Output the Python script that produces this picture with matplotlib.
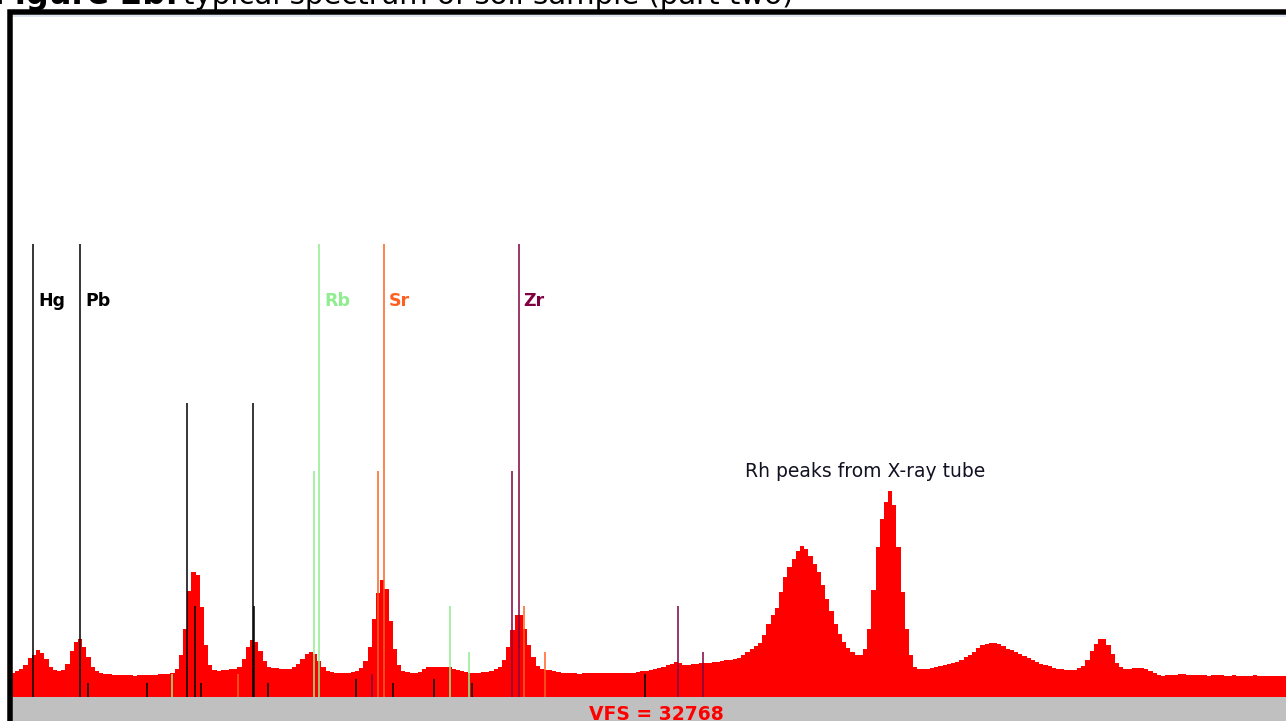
import numpy as np
import matplotlib
matplotlib.use("Agg")
from matplotlib import pyplot as plt
from matplotlib.patches import Rectangle

# spectrum: channel energies (keV) start/step, counts per channel
E0 = 9.75
STEP = 0.05
counts = [
    1200, 1300, 1400, 1600, 1950, 2100, 2350, 2200, 1900, 1500,
    1350, 1300, 1350, 1650, 2300, 2750, 2900, 2500, 2000, 1500,
    1300, 1200, 1150, 1150, 1100, 1100, 1100, 1100, 1100, 1050,
    1100, 1100, 1100, 1100, 1100, 1150, 1150, 1150, 1200, 1400,
    2100, 3400, 5300, 6250, 6100, 4500, 2600, 1600, 1350, 1300,
    1350, 1350, 1400, 1400, 1500, 1900, 2500, 2850, 2750, 2300,
    1800, 1500, 1450, 1450, 1400, 1400, 1400, 1500, 1650, 1900,
    2150, 2250, 2150, 1800, 1500, 1300, 1250, 1200, 1200, 1200,
    1200, 1250, 1300, 1450, 1800, 2500, 3900, 5200, 5850, 5400,
    3800, 2400, 1600, 1300, 1250, 1200, 1200, 1250, 1400, 1500,
    1500, 1500, 1500, 1500, 1500, 1400, 1350, 1300, 1250, 1200,
    1200, 1200, 1250, 1250, 1300, 1400, 1500, 1850, 2500, 3350,
    4100, 4100, 3400, 2600, 2000, 1550, 1400, 1350, 1350, 1300,
    1250, 1200, 1200, 1200, 1200, 1150, 1200, 1200, 1200, 1200,
    1200, 1200, 1200, 1200, 1200, 1200, 1200, 1200, 1200, 1250,
    1300, 1300, 1350, 1400, 1450, 1500, 1600, 1650, 1750, 1700,
    1600, 1600, 1650, 1650, 1700, 1700, 1700, 1750, 1750, 1800,
    1850, 1850, 1900, 1950, 2100, 2250, 2400, 2550, 2700, 3100,
    3650, 4100, 4450, 5250, 6000, 6500, 6900, 7300, 7550, 7400,
    7050, 6650, 6250, 5600, 4900, 4300, 3650, 3150, 2750, 2450,
    2250, 2100, 2100, 2400, 3400, 5350, 7500, 8900, 9750, 10300,
    9600, 7500, 5250, 3400, 2100, 1500, 1400, 1400, 1400, 1450,
    1500, 1550, 1600, 1650, 1700, 1750, 1850, 2000, 2100, 2250,
    2450, 2600, 2650, 2700, 2700, 2650, 2550, 2400, 2350, 2250,
    2150, 2050, 1950, 1850, 1750, 1650, 1600, 1550, 1450, 1400,
    1400, 1350, 1350, 1350, 1450, 1550, 1850, 2300, 2650, 2900,
    2900, 2600, 2150, 1700, 1500, 1400, 1400, 1450, 1450, 1450,
    1400, 1300, 1200, 1100, 1050, 1100, 1100, 1100, 1150, 1150,
    1100, 1100, 1100, 1100, 1100, 1050, 1100, 1100, 1100, 1050,
    1050, 1100, 1050, 1050, 1050, 1050, 1100, 1050, 1050, 1050,
    1050, 1050, 1050, 1050,
]

# KLM marker lines: energy (keV) and relative intensity
MARKER_FULL = 22650
hg_energy = [9.989, 11.35, 11.823, 11.924, 11.99, 13.84, 14.28]
hg_rel = [1.0, 0.03, 0.65, 0.2, 0.03, 0.04, 0.03]
pb_energy = [10.551, 10.645, 12.614, 12.623, 12.79, 14.764, 15.22, 17.28]
pb_rel = [1.0, 0.03, 0.65, 0.2, 0.03, 0.04, 0.03, 0.05]
rb_energy = [11.646, 13.336, 13.395, 14.961, 15.185]
rb_rel = [0.05, 0.5, 1.0, 0.2, 0.1]
sr_energy = [12.43, 14.098, 14.165, 15.836, 16.085]
sr_rel = [0.05, 0.5, 1.0, 0.2, 0.1]
zr_energy = [14.03, 15.691, 15.775, 17.668, 17.97]
zr_rel = [0.05, 0.5, 1.0, 0.2, 0.1]

elements = ["Hg", "Pb", "Rb", "Sr", "Zr"]
label_energy = [9.989, 10.551, 13.395, 14.165, 15.775]
colors = ["black", "black", "#90ee90", "#ff6020", "#800040"]
LABEL_Y = 19550

W, H = 1286, 721
fig = plt.figure(figsize=(W / 100, H / 100), dpi=100, facecolor="white")
ax = fig.add_axes([12 / W, 24 / H, 1274 / W, 655.36 / H])
ax.set_xlim(9.739, 9.739 + 1274 / 83.95)
ax.set_ylim(0, 32768)
ax.axis("off")

n = len(counts)
edges = E0 - STEP / 2 + STEP * np.arange(n + 1)
ax.stairs(counts, edges, fill=True, color="#ff0000", lw=0, zorder=1)

line_sets = [(hg_energy, hg_rel), (pb_energy, pb_rel), (rb_energy, rb_rel),
             (sr_energy, sr_rel), (zr_energy, zr_rel)]
for (en, rel), c in zip(line_sets, colors):
    ax.vlines(en, 0, np.array(rel) * MARKER_FULL, colors=c, lw=1.1, zorder=2)

for name, e, c in zip(elements, label_energy, colors):
    ax.annotate(name, (e, LABEL_Y), xytext=(5, 0), textcoords="offset pixels",
                fontsize=12.5, fontweight="bold", color=c, va="baseline")

ax.text(18.47, 11000, "Rh peaks from X-ray tube", fontsize=13.5,
        color="#111122", va="baseline")

# grey status bar and VFS readout
fig.add_artist(Rectangle((12 / W, 0), 1 - 12 / W, 24 / H, transform=fig.transFigure,
                         fc="#c0c0c0", ec="none", zorder=3))
fig.text(656 / W, 0.5 / H, "VFS = 32768", ha="center", va="baseline",
         color="#ff0000", fontweight="bold", fontsize=13.5, zorder=4)

# window frame
fig.add_artist(Rectangle((9.5 / W, -0.5), 2, 1 - 12 / H + 0.5, transform=fig.transFigure,
                         fill=False, ec="black", lw=5.5 * 0.72, zorder=5))
fig.add_artist(plt.Line2D([13 / W, 1], [1 - 16 / H, 1 - 16 / H], transform=fig.transFigure,
                          color="#d4e0f2", lw=1.2, zorder=4))

# caption, mostly cut off at the top
fig.text(178 / W, 1 - 4 / H, "Figure 2b:", ha="right", va="baseline",
         fontweight="bold", fontsize=23)
fig.text(183 / W, 1 - 4 / H, "typical spectrum of soil sample (part two)",
         ha="left", va="baseline", fontsize=21)

fig.savefig("out.png", dpi=100)
